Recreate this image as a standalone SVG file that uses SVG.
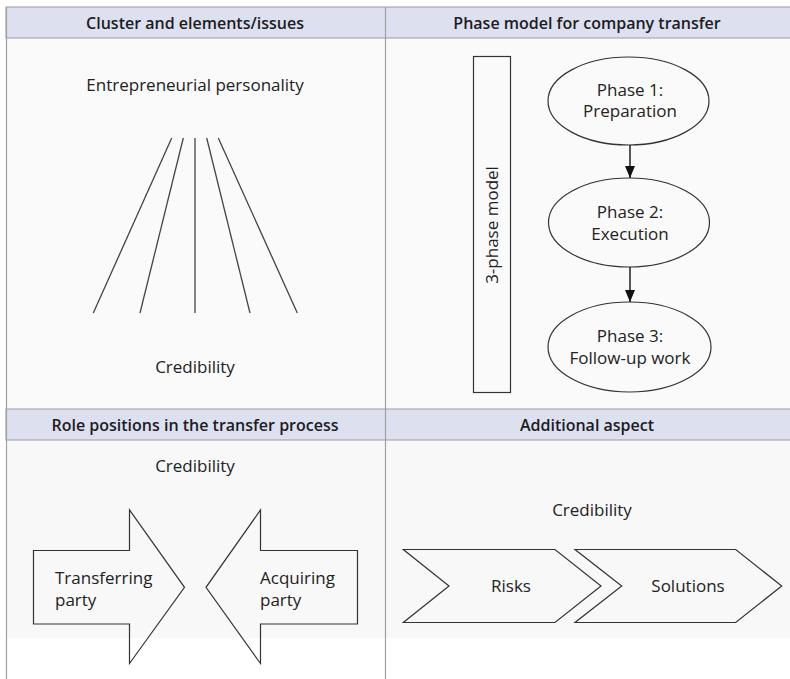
<svg xmlns="http://www.w3.org/2000/svg" width="790" height="679" viewBox="0 0 790 679">
  <defs>
    <marker id="arrowhead" viewBox="0 0 12 10" refX="12" refY="5" markerWidth="12" markerHeight="10" markerUnits="userSpaceOnUse" orient="auto">
      <path d="M0,0 L12,5 L0,10 Z" fill="#111"/>
    </marker>
    <style>
      .hdr { fill: #dde0ef; stroke: #9a9aa6; stroke-width: 1; }
      .hdr-text { font-family: "Open Sans", "Liberation Sans", sans-serif; font-weight: 600; font-size: 16px; fill: #1c1c24; text-anchor: middle; }
      .label { font-family: "Open Sans", "Liberation Sans", sans-serif; font-size: 17px; fill: #222; text-anchor: middle; }
      .label-l { font-family: "Open Sans", "Liberation Sans", sans-serif; font-size: 17px; fill: #222; text-anchor: start; }
      .shape { fill: none; stroke: #333; stroke-width: 1.2; }
      .ray { stroke: #444; stroke-width: 1.3; fill: none; }
      .frame { stroke: #a0a0a0; stroke-width: 1.2; fill: none; }
      .arrow { stroke: #111; stroke-width: 1.4; fill: none; }
    </style>
  </defs>

  <!-- panel backgrounds -->
  <rect x="0" y="0" width="790" height="679" fill="#ffffff"/>
  <rect x="6" y="38" width="784" height="371" fill="#fafafa"/>
  <rect x="6" y="440" width="784" height="198" fill="#f8f8f8"/>

  <!-- header bars -->
  <g id="headers">
    <rect class="hdr" x="6" y="7" width="790" height="31"/>
    <rect class="hdr" x="6" y="409" width="790" height="31"/>
    <text class="hdr-text" x="195" y="29">Cluster and elements/issues</text>
    <text class="hdr-text" x="587" y="29">Phase model for company transfer</text>
    <text class="hdr-text" x="195" y="431">Role positions in the transfer process</text>
    <text class="hdr-text" x="587" y="431">Additional aspect</text>
  </g>

  <!-- frame lines -->
  <g id="frame">
    <line class="frame" x1="6.5" y1="7" x2="6.5" y2="679"/>
    <line class="frame" x1="385.5" y1="7" x2="385.5" y2="679"/>
  </g>

  <!-- top-left: cluster -->
  <g id="cluster">
    <text class="label" x="195" y="91">Entrepreneurial personality</text>
    <line class="ray" x1="171.7" y1="138" x2="93.3" y2="313"/>
    <line class="ray" x1="183.3" y1="138" x2="140" y2="313"/>
    <line class="ray" x1="195" y1="138" x2="195" y2="313"/>
    <line class="ray" x1="206.7" y1="138" x2="250" y2="313"/>
    <line class="ray" x1="218.3" y1="138" x2="297.3" y2="313"/>
    <text class="label" x="195" y="373">Credibility</text>
  </g>

  <!-- top-right: phase model -->
  <g id="three-phase-bar">
    <rect class="shape" x="473.5" y="56.5" width="37" height="336" fill="#fff"/>
    <text class="label" transform="translate(498 225) rotate(-90)">3-phase model</text>
  </g>
  <g id="phase1">
    <ellipse class="shape" cx="628.5" cy="101" rx="80.5" ry="44" fill="#fff"/>
    <text class="label" x="630" y="96">Phase 1:</text>
    <text class="label" x="630" y="117">Preparation</text>
  </g>
  <g id="phase2">
    <ellipse class="shape" cx="629" cy="222.5" rx="80.5" ry="44.5" fill="#fff"/>
    <text class="label" x="630" y="218">Phase 2:</text>
    <text class="label" x="630" y="240">Execution</text>
  </g>
  <g id="phase3">
    <ellipse class="shape" cx="629.5" cy="347" rx="81.5" ry="45" fill="#fff"/>
    <text class="label" x="630" y="342">Phase 3:</text>
    <text class="label" x="630" y="364">Follow-up work</text>
  </g>
  <g id="connectors">
    <line class="arrow" x1="630" y1="145" x2="630" y2="178" marker-end="url(#arrowhead)"/>
    <line class="arrow" x1="630" y1="267" x2="630" y2="302" marker-end="url(#arrowhead)"/>
  </g>

  <!-- bottom-left: role positions -->
  <g id="roles-title">
    <text class="label" x="195" y="472">Credibility</text>
  </g>
  <g id="transferring-party">
    <path class="shape" fill="#fff" d="M33.5,550.5 H129.5 V510 L184.5,587.3 L129.5,663.5 V624 H33.5 Z"/>
    <text class="label-l" x="55" y="584">Transferring</text>
    <text class="label-l" x="55" y="606">party</text>
  </g>
  <g id="acquiring-party">
    <path class="shape" fill="#fff" d="M357.5,550.5 H260.5 V510 L206,587.3 L260.5,663.5 V624 H357.5 Z"/>
    <text class="label-l" x="260" y="584">Acquiring</text>
    <text class="label-l" x="260" y="606">party</text>
  </g>

  <!-- bottom-right: additional aspect -->
  <g id="aspect-title">
    <text class="label" x="592" y="516">Credibility</text>
  </g>
  <g id="risks">
    <path class="shape" fill="#fff" d="M403.3,549.5 H555 L601,586 L555,622.5 H403.3 L449,586 Z"/>
    <text class="label" x="511" y="592">Risks</text>
  </g>
  <g id="solutions">
    <path class="shape" fill="#fff" d="M575,549.5 H735.7 L781.7,586 L735.7,622.5 H575 L621.7,586 Z"/>
    <text class="label" x="688" y="592">Solutions</text>
  </g>
</svg>
